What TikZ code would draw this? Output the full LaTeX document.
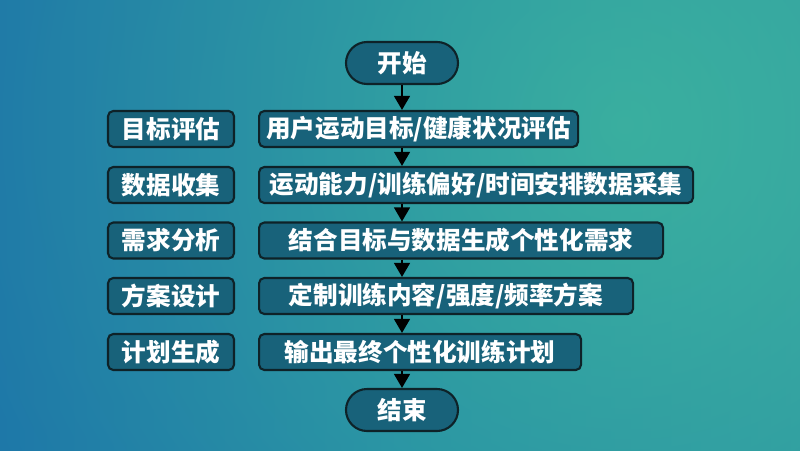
\documentclass[tikz,border=0pt]{standalone}
\usepackage{fontspec}
\newfontfamily\cjk{Noto Sans CJK SC}
\usetikzlibrary{shapes, arrows.meta}
\definecolor{bgleft}{RGB}{30,120,168}
\definecolor{bgmid}{RGB}{38,150,164}
\definecolor{bgright}{RGB}{52,170,160}
\definecolor{bglight}{RGB}{70,188,158}
\definecolor{boxfill}{RGB}{24,98,122}
\definecolor{boxline}{RGB}{14,34,40}
\tikzset{
	every node/.style={line width=1.2pt,draw=boxline,fill=boxfill,text=white,font=\cjk\bfseries\fontsize{14}{16}\selectfont,inner sep=0pt,minimum height=0.72cm},
	box/.style={shape=rectangle,rounded corners=3pt,anchor=west},
	tag-box/.style={shape=rectangle,rounded corners=3pt,minimum width=2.52cm},
	terminal/.style={shape=rectangle,rounded corners=0.42cm,minimum width=2.24cm,minimum height=0.84cm},
}
\tikzstyle{arrow} = [line width=1.2pt,draw=black,-{Triangle[length=8pt,width=9pt]}]
\begin{document}
\begin{tikzpicture}
	\useasboundingbox (0,0) rectangle (16,-9);
	% background
	\begin{scope}
		\clip (0,0) rectangle (16,-9);
		\shade[left color=bgleft,right color=bgright,middle color=bgmid] (0,0) rectangle (16,-9);
		\shade[inner color=bglight,outer color=bgleft,opacity=0.5] (12.5,-2.5) circle (14);
	\end{scope}

	\node[terminal] (start) at (8.04,-1.26) {开始};
	\node[box,minimum width=6.38cm] (b1) at (5.16,-2.58) {用户运动目标/健康状况评估};
	\node[box,minimum width=8.68cm] (b2) at (5.16,-3.70) {运动能力/训练偏好/时间安排数据采集};
	\node[box,minimum width=8.08cm] (b3) at (5.16,-4.81) {结合目标与数据生成个性化需求};
	\node[box,minimum width=7.48cm] (b4) at (5.16,-5.92) {定制训练内容/强度/频率方案};
	\node[box,minimum width=6.44cm] (b5) at (5.16,-7.04) {输出最终个性化训练计划};
	\node[terminal] (end) at (8.04,-8.20) {结束};

	\node[tag-box] (t1) at (3.42,-2.58) {目标评估};
	\node[tag-box] (t2) at (3.42,-3.70) {数据收集};
	\node[tag-box] (t3) at (3.42,-4.81) {需求分析};
	\node[tag-box] (t4) at (3.42,-5.92) {方案设计};
	\node[tag-box] (t5) at (3.42,-7.04) {计划生成};

	\draw[arrow] (start) -- (start |- b1.north);
	\draw[arrow] (b1.south -| start) -- (b2.north -| start);
	\draw[arrow] (b2.south -| start) -- (b3.north -| start);
	\draw[arrow] (b3.south -| start) -- (b4.north -| start);
	\draw[arrow] (b4.south -| start) -- (b5.north -| start);
	\draw[arrow] (b5.south -| start) -- (end);
\end{tikzpicture}
\end{document}
